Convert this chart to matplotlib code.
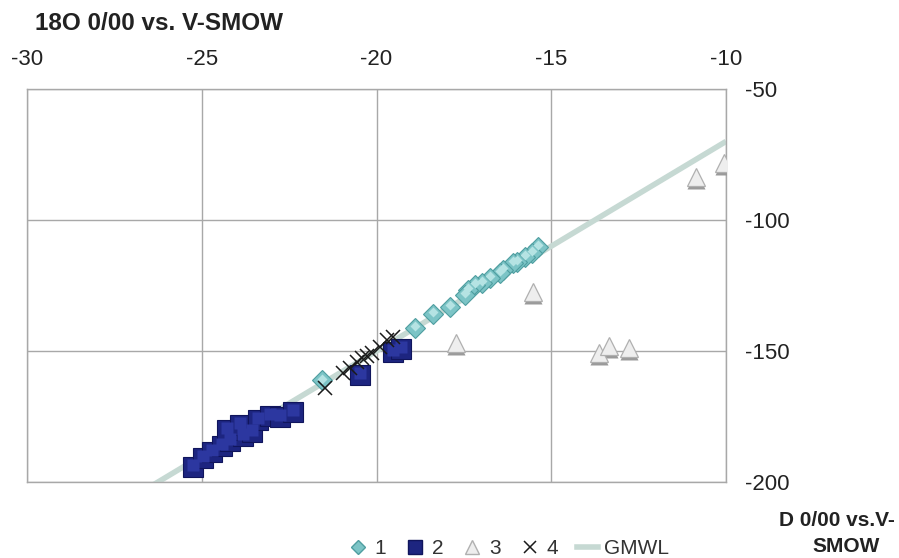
import numpy as np
import matplotlib.pyplot as plt
from matplotlib.lines import Line2D

plt.rcParams['font.family'] = ['Liberation Sans', 'DejaVu Sans']
plt.rcParams['axes.unicode_minus'] = False

# series 1 (diamonds)
x1 = [-15.38, -15.55, -15.75, -15.98, -16.10, -16.38, -16.47, -16.75, -16.98,
      -17.18, -17.38, -17.47, -17.90, -18.38, -18.90, -21.56]
y1 = [-110.3, -112.6, -114.1, -116.0, -116.4, -119.1, -120.2, -122.1, -124.0,
      -124.8, -126.7, -128.6, -133.2, -135.9, -141.2, -161.1]

# series 2 (squares)
x2 = [-25.25, -24.96, -24.71, -24.42, -24.19, -23.82, -23.56, -24.28, -23.91,
      -23.39, -23.05, -22.76, -22.39, -20.47, -19.53, -19.30]
y2 = [-194.3, -190.8, -188.6, -186.3, -184.4, -182.5, -180.9, -180.2, -178.3,
      -176.3, -174.8, -175.2, -173.3, -159.2, -150.4, -149.2]

# series 3 (triangles)
x3 = [-10.86, -10.05, -15.52, -17.73, -13.63, -13.35, -12.78]
y3 = [-83.6, -78.2, -127.5, -147.0, -150.8, -148.1, -148.9]

# series 4 (crosses)
x4 = [-21.47, -20.96, -20.76, -20.56, -20.42, -20.27, -20.13, -19.90, -19.70, -19.53]
y4 = [-164.1, -158.4, -156.5, -154.2, -152.7, -151.9, -150.8, -148.5, -145.8, -144.7]

# global meteoric water line dD = 8*d18O + 10
gmwl_x = np.array([-30, -10])
gmwl_y = 8 * gmwl_x + 10

fig = plt.figure(figsize=(8.99, 5.58), dpi=100)
ax = fig.add_axes([0.030, 0.1362, 0.7776, 0.7043])

ax.plot(gmwl_x, gmwl_y, color='#c6d9d3', lw=4, zorder=2, solid_capstyle='butt')
# diamonds with a lighter top highlight
ax.plot(x1, y1, 'D', ms=10, mfc='#7cc4c6', mec='#4f9ea0', mew=0.8, zorder=3)
ax.plot(x1, np.array(y1) + 0.6, 'D', ms=5, mfc='#b5e3e3', mec='none', zorder=3)
# squares with a slight 3d edge
ax.plot(x2, y2, 's', ms=14, mfc='#1d2580', mec='#10155c', mew=0.8, zorder=4)
ax.plot(x2, np.array(y2) + 0.8, 's', ms=8, mfc='#2c37a0', mec='none', zorder=4)
# triangles with a grey base
ax.plot(x3, np.array(y3) - 1.2, '^', ms=13, mfc='#9a9a9a', mec='none', zorder=4)
ax.plot(x3, y3, '^', ms=13, mfc='#eeeeee', mec='#b0b0b0', mew=0.9, zorder=4)
ax.plot(x4, y4, 'x', ms=10, color='#1a1a1a', mew=1.1, zorder=5)

ax.set_xlim(-30, -10)
ax.set_ylim(-200, -50)
ax.set_xticks(np.arange(-30, -9, 5))
ax.set_yticks(np.arange(-200, -49, 50))
ax.xaxis.tick_top()
ax.yaxis.tick_right()
ax.tick_params(length=0, labelsize=16, colors='#222222', pad=14)
ax.grid(True, color='#a8a8a8', lw=1)
ax.set_axisbelow(True)
for s in ax.spines.values():
    s.set_color('#a8a8a8')
    s.set_linewidth(1)

fig.text(35 / 899, 1 - 24 / 558, '18O 0/00 vs. V-SMOW', fontsize=17.5,
         fontweight='bold', va='center', ha='left', color='#222222')
fig.text(895 / 899, 1 - 520 / 558, 'D 0/00 vs.V-', fontsize=15,
         fontweight='bold', va='center', ha='right', color='#222222')
fig.text(846 / 899, 1 - 547 / 558, 'SMOW', fontsize=15,
         fontweight='bold', va='center', ha='center', color='#222222')

handles = [
    Line2D([], [], ls='', marker='D', ms=7, mfc='#7cc4c6', mec='#4f9ea0'),
    Line2D([], [], ls='', marker='s', ms=10, mfc='#1d2580', mec='#10155c'),
    Line2D([], [], ls='', marker='^', ms=10, mfc='#eeeeee', mec='#b0b0b0'),
    Line2D([], [], ls='', marker='x', ms=9, color='#1a1a1a', mew=1.1),
    Line2D([], [], color='#c6d9d3', lw=4),
]
fig.legend(handles, ['1', '2', '3', '4', 'GMWL'], loc='center',
           bbox_to_anchor=(508 / 899, 1 - 549 / 558), ncol=5, frameon=False,
           fontsize=15, handlelength=1.0, handletextpad=0.3, columnspacing=0.9,
           labelcolor='#333333')

fig.savefig('out.png', dpi=100)
